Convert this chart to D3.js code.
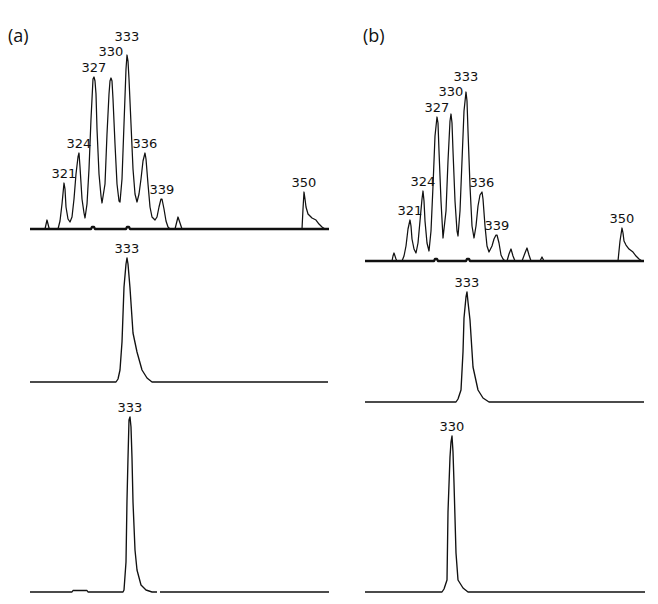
<!DOCTYPE html>
<html>
<head>
<meta charset="utf-8">
<script src="https://cdn.jsdelivr.net/npm/d3@7"></script>
<style>
  body { margin: 0; background: #fff; }
  svg { display: block; }
</style>
</head>
<body>
<svg id="chart" width="658" height="604"></svg>
<script>
// electropherogram traces, [scan, signal]
const traceATop = [[0,0],[15,0],[17,9],[19,1],[20,0],[27,0],[28,0],[30,8],[32,25],[34,46],[35,40],[36,22],[38,10],[40,7],
  [42,12],[44,30],[46,55],[48,72],[49,76],[50,62],[52,30],[54,16],[55,11],
  [57,25],[59,60],[61,110],[63,150],[64,152],[65,148],[66,135],[67,100],[69,55],[71,33],[72,26],
  [75,45],[77,95],[79,135],[80,148],[81,151],[82,148],[83,130],[85,85],[87,45],[89,28],[90,27],
  [92,50],[94,105],[96,160],[97,174],[98,168],[99,150],[101,105],[103,60],[105,35],[107,27],
  [109,35],[111,50],[113,68],[115,76],[116,70],[118,45],[120,22],[122,12],[125,9],
  [127,12],[129,22],[131,30],[132,30],[134,20],[136,8],[138,2],[140,0],
  [145,0],[147,8],[148,12],[150,6],[152,0],
  [272,0],[273,20],[274,37],[275,30],[276,22],[278,15],[282,11],[286,9],[289,5],[292,2],[295,0],[299,0]];
const traceABase = [[0,0],[61,0],[62,2],[64,2],[65,0],[96,0],[97,2],[99,2],[100,0],[299,0]];
const traceAMid = [[0,0],[86,0],[88,3],[90,12],[92,40],[94,95],[96,118],[97,124],[98,118],[100,94],[103,49],
  [107,30],[112,12],[117,4],[122,0],[298,0]];
const traceABot = [[0,0],[42,0],[43,1.5],[57,1.5],[58,0],[93,0],[94,2],[96,30],[97,92],[98,134],[99,172],[100,175],
  [101,165],[102,134],[103,90],[105,42],[107,22],[111,7],[116,2],[122,0],[127,0],[128,null],[130,0],[299,0]];

const traceBTop = [[0,0],[27,0],[28,5],[29,8],[31,2],[32,0],[37,0],[39,5],[41,15],[43,32],[45,41],[46,35],[47,22],[49,12],[51,8],
  [53,18],[55,40],[57,62],[58,70],[59,60],[60,40],[62,18],[64,10],
  [66,30],[68,75],[70,125],[72,144],[73,138],[74,110],[76,60],[78,23],
  [81,50],[83,100],[85,140],[86,147],[87,138],[88,110],[90,60],[92,30],[93,25],
  [95,50],[97,100],[99,150],[101,169],[102,160],[103,130],[105,75],[107,35],[109,23],
  [111,35],[113,55],[115,66],[117,69],[118,62],[120,35],[122,15],[124,9],
  [127,15],[129,22],[131,26],[132,26],[134,18],[136,6],[138,2],[140,0],
  [142,0],[144,7],[146,12],[148,5],[150,0],
  [157,0],[160,8],[162,13],[164,6],[166,0],
  [175,0],[177,4],[179,0],
  [253,0],[255,20],[257,33],[258,28],[259,20],[261,16],[264,12],[268,9],[271,5],[274,2],[277,0],[279,0]];
const traceBBase = [[0,0],[69,0],[70,2],[72,2],[73,0],[101,0],[102,2],[104,2],[105,0],[279,0]];
const traceBMid = [[0,0],[91,0],[93,3],[96,12],[98,50],[99,84],[101,105],[102,110],[103,100],[105,82],[108,35],
  [113,12],[118,4],[124,0],[279,0]];
const traceBBot = [[0,0],[77,0],[79,3],[82,12],[83,80],[85,135],[86,150],[87,156],[88,140],[89,109],[91,39],
  [93,12],[98,4],[103,0],[280,0]];

// peak calls: [size (bp), scan, signal]
const peaksATop = [[321,34,46],[324,49,76],[327,64,152],[330,81,151],[333,97,174],[336,115,76],[339,132,30],[350,274,37]];
const peaksAMid = [[333,97,124]];
const peaksABot = [[333,100,175]];
const peaksBTop = [[321,45,41],[324,58,70],[327,72,144],[330,86,147],[333,101,169],[336,117,69],[339,132,26],[350,257,33]];
const peaksBMid = [[333,102,110]];
const peaksBBot = [[330,87,156]];

const svg = d3.select("#chart");
const labelFont = "DejaVu Sans, Verdana, sans-serif";

const panels = [
  { x0: 30, x1: 329, base: 229, trace: traceATop, baseTrace: traceABase, peaks: peaksATop },
  { x0: 30, x1: 329, base: 382, trace: traceAMid, peaks: peaksAMid },
  { x0: 30, x1: 329, base: 592, trace: traceABot, peaks: peaksABot },
  { x0: 365, x1: 644, base: 261, trace: traceBTop, baseTrace: traceBBase, peaks: peaksBTop },
  { x0: 365, x1: 644, base: 402, trace: traceBMid, peaks: peaksBMid },
  { x0: 365, x1: 645, base: 592, trace: traceBBot, peaks: peaksBBot }
];

panels.forEach((p) => {
  const w = p.x1 - p.x0;
  const xScale = d3.scaleLinear().domain([0, w]).range([p.x0, p.x1]);
  const yScale = d3.scaleLinear().domain([0, 180]).range([p.base, p.base - 180]);
  const line = d3
    .line()
    .defined((d) => d[1] !== null)
    .x((d) => xScale(d[0]))
    .y((d) => yScale(d[1]));

  const g = svg.append("g");

  if (p.baseTrace) {
    g.append("path")
      .attr("d", line(p.baseTrace))
      .attr("fill", "none")
      .attr("stroke", "#111")
      .attr("stroke-width", 2.4)
      .attr("stroke-linejoin", "round");
  }

  g.append("path")
    .attr("d", line(p.trace))
    .attr("fill", "none")
    .attr("stroke", "#111")
    .attr("stroke-width", p.baseTrace ? 1.25 : 1.35)
    .attr("stroke-linejoin", "round");

  // stack labels that would collide with the previous one
  let prev = null;
  p.peaks.forEach((pk) => {
    const lx = xScale(pk[1]);
    let ly = yScale(pk[2]) - 5.5;
    if (prev && Math.abs(lx - prev.x) < 22 && Math.abs(ly - prev.y) < 15) {
      ly = prev.y - 15.5;
    }
    prev = { x: lx, y: ly };
    g.append("text")
      .attr("x", lx)
      .attr("y", ly)
      .attr("text-anchor", "middle")
      .style("font-family", labelFont)
      .style("font-size", "13px")
      .style("fill", "#111")
      .text(pk[0]);
  });
});

svg.append("text")
  .attr("x", 8).attr("y", 42)
  .style("font-family", "Open Sans, sans-serif")
  .style("font-size", "18px")
  .style("fill", "#111")
  .text("(a)");

svg.append("text")
  .attr("x", 363).attr("y", 42)
  .style("font-family", "Open Sans, sans-serif")
  .style("font-size", "18px")
  .style("fill", "#111")
  .text("(b)");
</script>
</body>
</html>
